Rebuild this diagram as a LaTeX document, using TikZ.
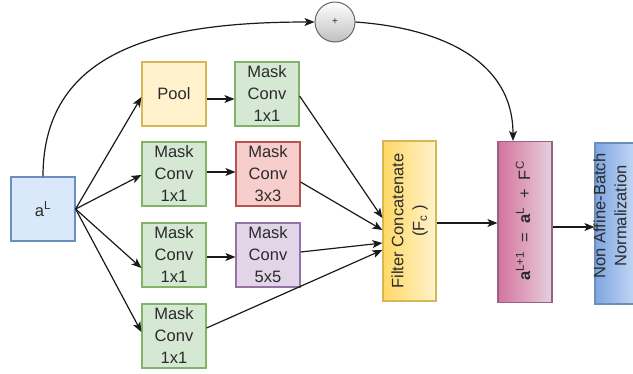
\documentclass[tikz,border=0pt]{standalone}
\usepackage{fontspec}
\setmainfont{Liberation Sans}
\usetikzlibrary{arrows.meta}
\definecolor{txt}{HTML}{2B2B2B}
\definecolor{ln}{HTML}{1A1A1A}
\definecolor{gfill}{HTML}{D5E8D4}\definecolor{gdraw}{HTML}{82B366}
\definecolor{yfill}{HTML}{FFF2CC}\definecolor{ydraw}{HTML}{D6B656}\definecolor{ydark}{HTML}{FFD966}
\definecolor{rfill}{HTML}{F8CECC}\definecolor{rdraw}{HTML}{B85450}
\definecolor{pfill}{HTML}{E1D5E7}\definecolor{pdraw}{HTML}{9673A6}
\definecolor{bfill}{HTML}{DAE8FC}\definecolor{bdraw}{HTML}{6C8EBF}\definecolor{bdark}{HTML}{7EA6E0}
\definecolor{kfill}{HTML}{E6D0DE}\definecolor{kdraw}{HTML}{996185}\definecolor{kdark}{HTML}{D5739D}
\definecolor{cdraw}{HTML}{666666}
\tikzset{
  box/.style={draw, line width=1.2pt, minimum width=64pt, minimum height=64pt, inner sep=0pt, align=center, text=txt, font=\fontsize{16.5}{22}\selectfont},
  arr/.style={draw=ln, line width=1.2pt, -{Stealth[length=10pt,width=8pt,inset=2.5pt]}},
  tallbox/.style={draw, line width=1.2pt, minimum width=54pt, minimum height=161pt, inner sep=0pt},
  vtext/.style={rotate=90, align=center, text=txt, font=\fontsize{16.5}{21}\selectfont, inner sep=0pt},
  gbox/.style={box, draw=gdraw, fill=gfill},
  ybox/.style={box, draw=ydraw, fill=yfill},
  rbox/.style={box, draw=rdraw, fill=rfill},
  pbox/.style={box, draw=pdraw, fill=pfill},
  abox/.style={box, draw=bdraw, fill=bfill}
}
\begin{document}
\begin{tikzpicture}[x=1pt,y=-1pt]
\useasboundingbox (0,0) rectangle (633,373);
% nodes
\node[abox] (aL) at (43,209) {a\textsuperscript{L}};
\node[ybox] (pool) at (174,94) {Pool};
\node[gbox] (mc1) at (267,94) {Mask\\Conv\\1x1};
\node[gbox] (r2) at (174,174) {Mask\\Conv\\1x1};
\node[rbox] (mc3) at (268,174) {Mask\\Conv\\3x3};
\node[gbox] (r3) at (174,255) {Mask\\Conv\\1x1};
\node[pbox] (mc5) at (268,255) {Mask\\Conv\\5x5};
\node[gbox] (r4) at (174,336) {Mask\\Conv\\1x1};
\node[tallbox, draw=ydraw, left color=ydark, right color=yfill, minimum width=53pt, minimum height=160pt] (cat) at (409.5,221) {};
\node[vtext] (cattxt) at (cat) {Filter Concatenate\\(F\textsubscript{c} )};
\node[tallbox, draw=kdraw, left color=kdark, right color=kfill] (sum) at (525,222) {};
\node[vtext] (sumtxt) at (523,221) {\textbf{a}\textsuperscript{L+1}\hspace{9pt}=\hspace{9pt}\textbf{a}\textsuperscript{L}\hspace{9pt}+\hspace{9pt}F\textsuperscript{C}};
\node[tallbox, draw=bdraw, left color=bdark, right color=bfill] (bn) at (622,223.5) {};
\node[vtext] (bntxt) at (610,216) {Non Affine-Batch\\Normalization};
\node[circle, draw=cdraw, line width=1pt, top color=white, bottom color=black!25, minimum size=40pt, inner sep=0pt, font=\fontsize{10}{10}\selectfont, text=txt] (plus) at (335,22) {+};
% skip connection
\draw[arr] (aL.north) .. controls (43,45) and (170,22) .. (plus.west);
\draw[arr] (plus.east) .. controls (440,28) and (513,60) .. ([xshift=-12pt]sum.north);
% fan out
\draw[arr] (aL.east) -- ([yshift=-3pt]pool.west);
\draw[arr] (aL.east) -- ([yshift=-1pt]r2.west);
\draw[arr] (aL.east) -- ([yshift=-13pt]r3.west);
\draw[arr] (aL.east) -- ([yshift=4pt]r4.west);
% horizontal
\draw[arr] ([yshift=-5pt]pool.east) -- ([yshift=-5pt]pool.east -| mc1.west);
\draw[arr] ([yshift=2pt]r2.east) -- ([yshift=2pt]r2.east -| mc3.west);
\draw[arr] ([yshift=-2pt]r3.east) -- ([yshift=-2pt]r3.east -| mc5.west);
% into concat
\draw[arr] ([yshift=-2pt]mc1.east) -- ([yshift=3pt]cat.west);
\draw[arr] ([yshift=-8pt]mc3.east) -- ([yshift=-9pt]cat.west);
\draw[arr] ([yshift=3pt]mc5.east) -- ([yshift=-22pt]cat.west);
\draw[arr] ([yshift=8pt]r4.east) -- ([yshift=-29pt]cat.west);
% to the right
\draw[arr] ([yshift=-2pt]cat.east) -- ([yshift=-2pt]cat.east -| sum.west);
\draw[arr] ([yshift=-5pt]sum.east) -- ([yshift=-5pt]sum.east -| bn.west);
\end{tikzpicture}
\end{document}
